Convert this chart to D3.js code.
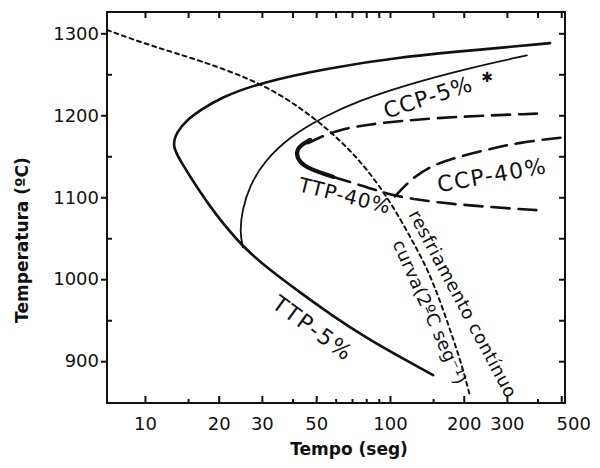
<!DOCTYPE html>
<html>
<head>
<meta charset="utf-8">
<script src="https://cdn.jsdelivr.net/npm/d3@7"></script>
<style>
  body { margin: 0; background: #fff; }
  svg { display: block; }
  text { font-family: "DejaVu Sans", sans-serif; fill: #111; }
</style>
</head>
<body>
<svg id="chart" width="600" height="468"></svg>
<script>
// tick labels
const xTickLabels = [10, 20, 30, 50, 100, 200, 300, 500];
const xMinorTicks = [15, 40, 60, 70, 80, 90, 150, 400];
const yTickLabels = [900, 1000, 1100, 1200, 1300];
const yMinorTicks = [950, 1050, 1150, 1250];

// curves: [tempo (s), temperatura (C)]
const ttp5 = [[450, 1288], [212, 1279], [110, 1271], [56.9, 1258], [29.5, 1240], [20.2, 1221],
  [16.8, 1206], [14.8, 1194], [13.5, 1180], [12.9, 1163], [13.9, 1145], [16.3, 1112],
  [19.3, 1080], [25.1, 1039], [32.4, 1011], [42.9, 984], [58.5, 955], [80.5, 928], [110, 905], [150, 883]];
const ccp5 = [[362, 1273], [212, 1258], [110, 1235], [75.4, 1218], [53.3, 1198], [39.1, 1174],
  [30.9, 1145], [26.8, 1115], [24.9, 1084], [24.4, 1057], [25.1, 1039]];
const ttp40Upper = [[398, 1202], [176, 1198], [110, 1193], [82.9, 1189], [65.5, 1184], [54.3, 1176], [46.3, 1166]];
const ttp40Nose = [[47.2, 1170], [42.9, 1163], [41.3, 1155], [42.5, 1143], [47.2, 1134], [58.5, 1125]];
const ttp40Lower = [[58.5, 1125], [79.1, 1113], [104.8, 1101], [160, 1093], [256, 1088], [410, 1084]];
const ccp40 = [[104.8, 1101], [120.7, 1121], [145.6, 1138], [187.7, 1149], [256, 1159], [339, 1167], [508, 1173]];
const cooling = [[7.0, 1304], [10.5, 1285], [16.8, 1267], [29.5, 1240], [42.9, 1210], [58.5, 1178],
  [75.4, 1145], [93.6, 1108], [110, 1074], [126.5, 1041], [142.9, 1011], [160, 974], [177.4, 935],
  [194.9, 899], [212, 858]];

// annotations
const labels = [
  {text: "CCP-5%", t: 143, T: 1222, rot: -18, size: 22, sp: 1},
  {text: "✱", t: 249, T: 1247, rot: 0, size: 14, sp: 0},
  {text: "CCP-40%", t: 261, T: 1127, rot: -10, size: 22, sp: 1.5},
  {text: "TTP-40%", t: 65.5, T: 1102, rot: 14, size: 20, sp: 1},
  {text: "TTP-5%", t: 48.5, T: 940, rot: 36, size: 22, sp: 2},
  {text: "resfriamento contínuo", t: 199, T: 970, rot: 62, size: 18, sp: 0.5},
  {text: "curva(2ºC seg⁻¹)", t: 145.6, T: 960, rot: 66, size: 18, sp: 0.3}
];

const svg = d3.select("#chart");
const plotLeft = 107, plotRight = 565, plotTop = 12, plotBottom = 403;

const x = d3.scaleLog().domain([7, 518]).range([plotLeft, plotRight]);
const y = d3.scaleLinear().domain([849, 1326]).range([plotBottom, plotTop]);

// frame
svg.append("rect")
  .attr("x", plotLeft).attr("y", plotTop)
  .attr("width", plotRight - plotLeft).attr("height", plotBottom - plotTop)
  .attr("fill", "none").attr("stroke", "#111").attr("stroke-width", 2);

// bottom axis
const xAxis = svg.append("g").attr("transform", `translate(0,${plotBottom})`)
  .call(d3.axisBottom(x).tickValues(xTickLabels).tickSize(-7).tickPadding(14).tickFormat(d3.format("d")));
xAxis.append("g").call(d3.axisBottom(x).tickValues(xMinorTicks).tickSize(-4).tickFormat(""));
// the last label sits just past the frame in the original
xAxis.selectAll(".tick text").filter(d => d === 500).attr("dx", 12);

// top axis (ticks only)
svg.append("g").attr("transform", `translate(0,${plotTop})`)
  .call(d3.axisTop(x).tickValues(xTickLabels.concat(xMinorTicks)).tickSize(-6).tickFormat(""));

// left axis
const yAxis = svg.append("g").attr("transform", `translate(${plotLeft},0)`)
  .call(d3.axisLeft(y).tickValues(yTickLabels).tickSize(6).tickPadding(2).tickFormat(d3.format("d")));
yAxis.append("g").call(d3.axisLeft(y).tickValues(yMinorTicks).tickSize(-5).tickFormat(""));
// right axis (ticks only)
svg.append("g").attr("transform", `translate(${plotRight},0)`)
  .call(d3.axisRight(y).tickValues(yTickLabels.concat(yMinorTicks)).tickSize(-6).tickFormat(""));

svg.selectAll(".domain").remove();
svg.selectAll(".tick line").attr("stroke", "#111").attr("stroke-width", 2);
svg.selectAll(".tick text").style("font-size", "18px").attr("fill", "#111");

// axis titles
svg.append("text")
  .attr("x", 349).attr("y", 455)
  .attr("text-anchor", "middle")
  .style("font-size", "17px").style("font-weight", "bold")
  .text("Tempo (seg)");

svg.append("text")
  .attr("transform", "translate(28,240) rotate(-90)")
  .attr("text-anchor", "middle")
  .style("font-size", "17px").style("font-weight", "bold")
  .text("Temperatura (ºC)");

const line = d3.line()
  .x(d => x(d[0]))
  .y(d => y(d[1]))
  .curve(d3.curveBasis);

function drawCurve(data, width, dash) {
  svg.append("path")
    .datum(data)
    .attr("d", line)
    .attr("fill", "none")
    .attr("stroke", "#111")
    .attr("stroke-width", width)
    .attr("stroke-linecap", "round")
    .attr("stroke-dasharray", dash || null);
}

drawCurve(cooling, 2, "4,4");
drawCurve(ttp5, 2.6);
drawCurve(ccp5, 1.8);
drawCurve(ttp40Upper, 2.6, "18,9");
drawCurve(ttp40Nose, 4.2);
drawCurve(ttp40Lower, 2.6, "18,9");
drawCurve(ccp40, 2.6, "18,9");

// annotations
svg.append("g").selectAll("text")
  .data(labels)
  .join("text")
  .attr("transform", d => `translate(${x(d.t)},${y(d.T)}) rotate(${d.rot})`)
  .attr("text-anchor", "middle")
  .attr("dominant-baseline", "central")
  .style("font-size", d => d.size + "px")
  .style("letter-spacing", d => d.sp + "px")
  .text(d => d.text);
</script>
</body>
</html>
